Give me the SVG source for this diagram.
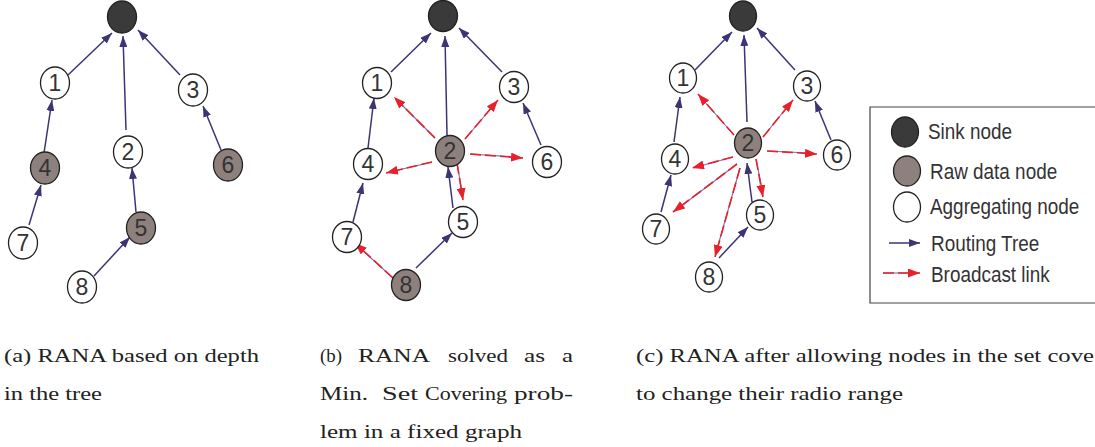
<svg xmlns="http://www.w3.org/2000/svg" width="1095" height="447" viewBox="0 0 1095 447">
<style>
.n{stroke:#222;stroke-width:1.3}
.w{fill:#fff}
.g{fill:#8e817d}
.s{fill:#3a3a3a}
.t{font-family:"Liberation Sans Narrow","Liberation Sans",Arial,sans-serif;font-size:23px;fill:#333;text-anchor:middle}
.lt{font-family:"Liberation Sans",Arial,sans-serif;font-size:22px;fill:#333}
.bl{stroke:#3b3475;stroke-width:1.5;fill:none}
.bu{stroke:#7470b8;stroke-width:1.1;fill:none}
.rd{stroke:#e8202a;stroke-width:1.6;stroke-dasharray:11 4;fill:none}
.cap{font-family:"Liberation Serif","Times New Roman",serif;font-size:18px;fill:#222}
</style>
<defs>
<marker id="ab" viewBox="0 0 11 8" refX="11" refY="4" markerWidth="11" markerHeight="8" markerUnits="userSpaceOnUse" orient="auto"><path d="M0,0 L11,4 L0,8 z" fill="#3b3475"/></marker>
<marker id="ar" viewBox="0 0 12 9" refX="12" refY="4.5" markerWidth="12" markerHeight="9" markerUnits="userSpaceOnUse" orient="auto"><path d="M0,0 L12,4.5 L0,9 z" fill="#e8202a"/></marker>
</defs>

<g id="connectors">
<!-- panel a -->
<g marker-end="url(#ab)" class="bl">
<line x1="68" y1="75" x2="112" y2="33"/>
<line x1="126" y1="130" x2="123" y2="36"/>
<line x1="180" y1="75" x2="138" y2="30"/>
<line x1="44" y1="153" x2="52" y2="100"/>
<line x1="29" y1="225" x2="41" y2="185"/>
<line x1="136" y1="212" x2="132" y2="168"/>
<line x1="221" y1="150" x2="203" y2="106"/>
<line x1="94" y1="276" x2="130" y2="237"/>
</g>
<!-- panel b -->
<g marker-end="url(#ab)" class="bl">
<line x1="391" y1="72" x2="431" y2="33"/>
<line x1="447" y1="135" x2="445" y2="36"/>
<line x1="502" y1="72" x2="459" y2="28"/>
<line x1="368" y1="148" x2="374" y2="98"/>
<line x1="353" y1="222" x2="363" y2="183"/>
<line x1="541" y1="145" x2="523" y2="103"/>
<line x1="453" y1="208" x2="448" y2="167"/>
<line x1="416" y1="268" x2="452" y2="233"/>
</g>
<g class="bu">
<line x1="435" y1="138" x2="400" y2="103"/>
<line x1="465" y1="139" x2="493" y2="106"/>
<line x1="470" y1="154" x2="515" y2="157"/>
<line x1="432" y1="162" x2="394" y2="171"/>
<line x1="457" y1="163" x2="462" y2="192"/>
<line x1="393" y1="278" x2="361" y2="249"/>
</g>
<g class="rd" marker-end="url(#ar)">
<line x1="435" y1="138" x2="394" y2="97"/>
<line x1="465" y1="139" x2="498" y2="100"/>
<line x1="470" y1="154" x2="523" y2="158"/>
<line x1="432" y1="162" x2="386" y2="173"/>
<line x1="457" y1="163" x2="463" y2="200"/>
<line x1="393" y1="278" x2="355" y2="243"/>
</g>
<!-- panel c -->
<g marker-end="url(#ab)" class="bl">
<line x1="695" y1="70" x2="732" y2="32"/>
<line x1="747" y1="122" x2="744" y2="35"/>
<line x1="795" y1="70" x2="757" y2="28"/>
<line x1="674" y1="142" x2="680" y2="97"/>
<line x1="661" y1="212" x2="671" y2="175"/>
<line x1="831" y1="140" x2="815" y2="101"/>
<line x1="752" y1="202" x2="747" y2="163"/>
<line x1="719" y1="258" x2="748" y2="227"/>
</g>
<g class="bu">
<line x1="734" y1="135" x2="704" y2="101"/>
<line x1="763" y1="137" x2="788" y2="106"/>
<line x1="767" y1="151" x2="809" y2="153"/>
<line x1="733" y1="157" x2="700" y2="166"/>
<line x1="756" y1="159" x2="762" y2="189"/>
<line x1="737" y1="164" x2="680" y2="207"/>
<line x1="740" y1="168" x2="717" y2="249"/>
</g>
<g class="rd" marker-end="url(#ar)">
<line x1="734" y1="135" x2="698" y2="94"/>
<line x1="763" y1="137" x2="793" y2="100"/>
<line x1="767" y1="151" x2="817" y2="154"/>
<line x1="733" y1="157" x2="692" y2="168"/>
<line x1="756" y1="159" x2="763" y2="197"/>
<line x1="737" y1="164" x2="673" y2="212"/>
<line x1="740" y1="168" x2="715" y2="257"/>
</g>
</g>

<!-- panel a nodes -->
<g id="a-sink"><ellipse class="n s" cx="122" cy="17" rx="14.5" ry="16"/></g>
<g id="a-n1"><ellipse class="n w" cx="55" cy="83" rx="14.5" ry="16"/><text class="t" x="55" y="91">1</text></g>
<g id="a-n2"><ellipse class="n w" cx="128" cy="152" rx="14.5" ry="16"/><text class="t" x="128" y="160">2</text></g>
<g id="a-n3"><ellipse class="n w" cx="193" cy="90" rx="14.5" ry="16"/><text class="t" x="193" y="98">3</text></g>
<g id="a-n4"><ellipse class="n g" cx="45" cy="168" rx="14.5" ry="16"/><text class="t" x="45" y="176">4</text></g>
<g id="a-n5"><ellipse class="n g" cx="141" cy="228" rx="14.5" ry="16"/><text class="t" x="141" y="236">5</text></g>
<g id="a-n6"><ellipse class="n g" cx="228" cy="165" rx="14.5" ry="16"/><text class="t" x="228" y="173">6</text></g>
<g id="a-n7"><ellipse class="n w" cx="23" cy="243" rx="14.5" ry="16"/><text class="t" x="23" y="251">7</text></g>
<g id="a-n8"><ellipse class="n w" cx="82" cy="287" rx="14.5" ry="16"/><text class="t" x="82" y="295">8</text></g>

<!-- panel b nodes -->
<g id="b-sink"><ellipse class="n s" cx="443" cy="16" rx="14.5" ry="15.5"/></g>
<g id="b-n1"><ellipse class="n w" cx="377" cy="83" rx="14.5" ry="15.5"/><text class="t" x="377" y="91">1</text></g>
<g id="b-n2"><ellipse class="n g" cx="450" cy="151" rx="14.5" ry="15.5"/><text class="t" x="450" y="159">2</text></g>
<g id="b-n3"><ellipse class="n w" cx="514" cy="87" rx="14.5" ry="15.5"/><text class="t" x="514" y="95">3</text></g>
<g id="b-n4"><ellipse class="n w" cx="368" cy="164" rx="14.5" ry="15.5"/><text class="t" x="368" y="172">4</text></g>
<g id="b-n5"><ellipse class="n w" cx="463" cy="222" rx="14.5" ry="15.5"/><text class="t" x="463" y="230">5</text></g>
<g id="b-n6"><ellipse class="n w" cx="547" cy="162" rx="14.5" ry="15.5"/><text class="t" x="547" y="170">6</text></g>
<g id="b-n7"><ellipse class="n w" cx="347" cy="237" rx="14.5" ry="15.5"/><text class="t" x="347" y="245">7</text></g>
<g id="b-n8"><ellipse class="n g" cx="406" cy="285" rx="14.5" ry="15.5"/><text class="t" x="406" y="293">8</text></g>

<!-- panel c nodes -->
<g id="c-sink"><ellipse class="n s" cx="743" cy="16" rx="13.5" ry="15"/></g>
<g id="c-n1"><ellipse class="n w" cx="683" cy="78" rx="13.5" ry="15"/><text class="t" x="683" y="86">1</text></g>
<g id="c-n2"><ellipse class="n g" cx="748" cy="143" rx="13.5" ry="15"/><text class="t" x="748" y="151">2</text></g>
<g id="c-n3"><ellipse class="n w" cx="807" cy="86" rx="13.5" ry="15"/><text class="t" x="807" y="94">3</text></g>
<g id="c-n4"><ellipse class="n w" cx="675" cy="159" rx="13.5" ry="15"/><text class="t" x="675" y="167">4</text></g>
<g id="c-n5"><ellipse class="n w" cx="760" cy="215" rx="13.5" ry="15"/><text class="t" x="760" y="223">5</text></g>
<g id="c-n6"><ellipse class="n w" cx="837" cy="155" rx="13.5" ry="15"/><text class="t" x="837" y="163">6</text></g>
<g id="c-n7"><ellipse class="n w" cx="656" cy="229" rx="13.5" ry="15"/><text class="t" x="656" y="237">7</text></g>
<g id="c-n8"><ellipse class="n w" cx="709" cy="277" rx="13.5" ry="15"/><text class="t" x="709" y="285">8</text></g>

<!-- legend -->
<g id="legend">
<path d="M1095,107 H870 V303 H1095" fill="none" stroke="#444" stroke-width="1.2"/>
<ellipse class="n s" cx="905" cy="132" rx="13.5" ry="15"/>
<text class="lt" transform="translate(928,139) scale(0.86,1)">Sink node</text>
<ellipse class="n g" cx="907" cy="171" rx="13.5" ry="15"/>
<text class="lt" transform="translate(930,179) scale(0.86,1)">Raw data node</text>
<ellipse class="n w" cx="907" cy="207" rx="13.5" ry="15"/>
<text class="lt" transform="translate(930,214) scale(0.86,1)">Aggregating node</text>
<line class="bl" x1="889" y1="243" x2="920" y2="243" marker-end="url(#ab)"/>
<text class="lt" transform="translate(931,251) scale(0.86,1)">Routing Tree</text>
<line class="bu" x1="883" y1="273" x2="910" y2="273"/>
<line class="rd" x1="883" y1="273" x2="920" y2="273" marker-end="url(#ar)"/>
<text class="lt" transform="translate(931,282) scale(0.86,1)">Broadcast link</text>
</g>

<!-- captions -->
<g id="captions">
<text class="cap" x="4" y="362" textLength="255" lengthAdjust="spacingAndGlyphs">(a) RANA based on depth</text>
<text class="cap" x="4" y="400" textLength="98" lengthAdjust="spacingAndGlyphs">in the tree</text>
<text class="cap" x="320" y="362" textLength="22" lengthAdjust="spacingAndGlyphs">(b)</text>
<text class="cap" x="358" y="362" textLength="72" lengthAdjust="spacingAndGlyphs">RANA</text>
<text class="cap" x="448" y="362" textLength="60" lengthAdjust="spacingAndGlyphs">solved</text>
<text class="cap" x="524" y="362" textLength="21" lengthAdjust="spacingAndGlyphs">as</text>
<text class="cap" x="562" y="362" textLength="11" lengthAdjust="spacingAndGlyphs">a</text>
<text class="cap" x="320" y="400" textLength="48" lengthAdjust="spacingAndGlyphs">Min.</text>
<text class="cap" x="382" y="400" textLength="36" lengthAdjust="spacingAndGlyphs">Set</text>
<text class="cap" x="425" y="400" textLength="82" lengthAdjust="spacingAndGlyphs">Covering</text>
<text class="cap" x="514" y="400" textLength="59" lengthAdjust="spacingAndGlyphs">prob-</text>
<text class="cap" x="320" y="438" textLength="202" lengthAdjust="spacingAndGlyphs">lem in a fixed graph</text>
<text class="cap" x="636" y="362" textLength="458" lengthAdjust="spacingAndGlyphs">(c) RANA after allowing nodes in the set cove</text>
<text class="cap" x="636" y="400" textLength="267" lengthAdjust="spacingAndGlyphs">to change their radio range</text>
</g>
</svg>
